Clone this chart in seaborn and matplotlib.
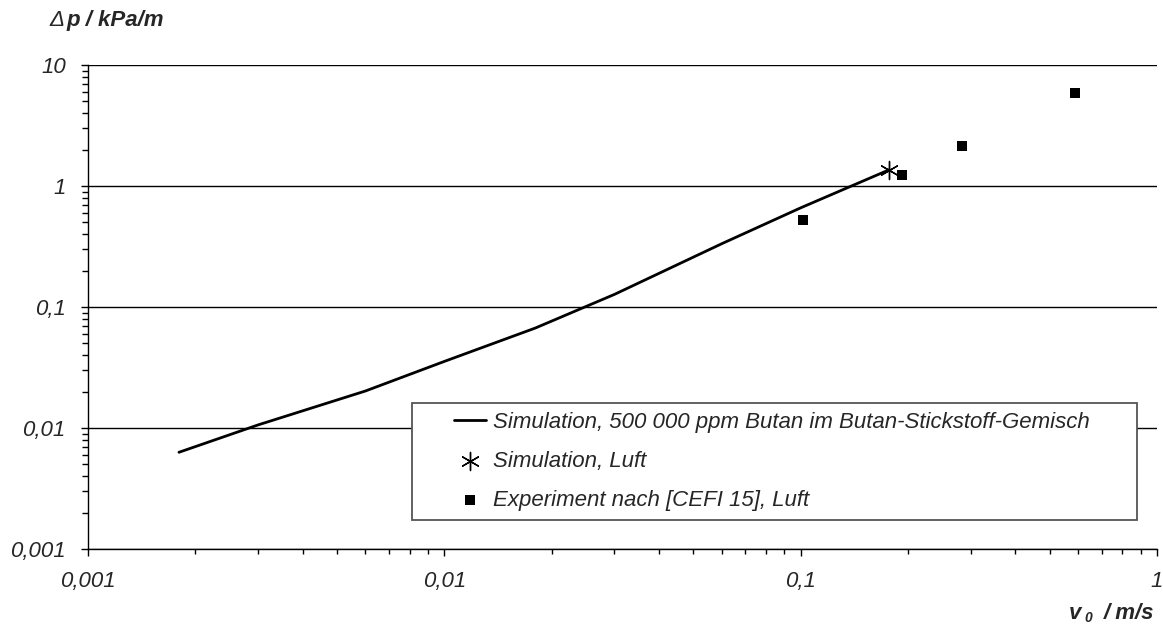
import matplotlib
matplotlib.use("Agg")
import matplotlib.pyplot as plt
import matplotlib.ticker as mticker
from matplotlib.lines import Line2D
from matplotlib.collections import PathCollection
from matplotlib.legend_handler import HandlerLine2D, HandlerPathCollection
import seaborn as sns
import pandas as pd
import numpy as np

# Data
sim_v = [0.0018, 0.003, 0.006, 0.01, 0.018, 0.03, 0.06, 0.1, 0.177]
sim_dp = [0.0063, 0.0106, 0.0202, 0.0355, 0.067, 0.127, 0.333, 0.66, 1.36]
air_v = [0.177]
air_dp = [1.36]
exp_v = [0.1016, 0.193, 0.284, 0.589]
exp_dp = [0.524, 1.23, 2.14, 5.87]

labels = ["Simulation, 500 000 ppm Butan im Butan-Stickstoff-Gemisch",
          "Simulation, Luft",
          "Experiment nach [CEFI 15], Luft"]

sns.set_theme(style="white")
plt.rcParams['font.family'] = ['Liberation Sans', 'DejaVu Sans']

W, H = 1163, 627
fig = plt.figure(figsize=(W / 100, H / 100), dpi=100)
ax = fig.add_axes([88 / W, 1 - 549 / H, (1157 - 88) / W, (549 - 65) / H])

df_sim = pd.DataFrame({"v": sim_v, "dp": sim_dp})
df_air = pd.DataFrame({"v": air_v, "dp": air_dp})
df_exp = pd.DataFrame({"v": exp_v, "dp": exp_dp})

sns.lineplot(data=df_sim, x="v", y="dp", ax=ax, color="black", lw=2.0,
             label=labels[0], zorder=3)
sns.scatterplot(data=df_air, x="v", y="dp", ax=ax, marker=(6, 2, 0), s=170,
                color="black", edgecolor="black", linewidth=1.0, label=labels[1], zorder=4)
sns.scatterplot(data=df_exp, x="v", y="dp", ax=ax, marker="s", s=55,
                color="black", edgecolor="black", linewidth=0, label=labels[2], zorder=4)

ax.set_xscale("log")
ax.set_yscale("log")
ax.set_xlim(0.001, 1)
ax.set_ylim(0.001, 10)

fmt = lambda val, pos: ("%g" % val).replace(".", ",")
ax.xaxis.set_major_locator(mticker.LogLocator(base=10, numticks=10))
ax.yaxis.set_major_locator(mticker.LogLocator(base=10, numticks=10))
ax.xaxis.set_minor_locator(mticker.LogLocator(base=10, subs=np.arange(2, 10), numticks=10))
ax.yaxis.set_minor_locator(mticker.LogLocator(base=10, subs=np.arange(2, 10), numticks=10))
ax.xaxis.set_major_formatter(mticker.FuncFormatter(fmt))
ax.yaxis.set_major_formatter(mticker.FuncFormatter(fmt))
ax.xaxis.set_minor_formatter(mticker.NullFormatter())
ax.yaxis.set_minor_formatter(mticker.NullFormatter())

ax.tick_params(axis="both", which="both", direction="out", color="black", width=1,
               labelsize=16)
ax.tick_params(axis="y", which="major", length=5, pad=11)
ax.tick_params(axis="y", which="minor", length=4.3)
ax.tick_params(axis="x", which="major", length=5, pad=11)
ax.tick_params(axis="x", which="minor", length=3.6)
for lab in ax.get_xticklabels() + ax.get_yticklabels():
    lab.set_fontstyle("italic")
ax.xaxis.set_ticks_position("bottom")
ax.yaxis.set_ticks_position("left")

ax.grid(True, which="major", axis="y", color="black", lw=1)
ax.grid(False, axis="x")
for side in ["top", "right"]:
    ax.spines[side].set_visible(False)
for side in ["left", "bottom"]:
    ax.spines[side].set_color("black")
    ax.spines[side].set_linewidth(1)

ax.set_xlabel("")
ax.set_ylabel("")

# axis titles
fig.text(49 / W, 1 - 26 / H, "\u0394", fontsize=16, fontstyle="italic",
         ha="left", va="baseline")
fig.text(66 / W, 1 - 26 / H, "p / kPa/m", fontsize=16, fontweight="bold",
         fontstyle="italic", ha="left", va="baseline")
fig.text(1069 / W, 1 - 619 / H, "v", fontsize=16, fontweight="bold",
         fontstyle="italic", ha="left", va="baseline")
fig.text(1084 / W, 1 - 622 / H, "0", fontsize=10, fontweight="bold",
         fontstyle="italic", ha="left", va="baseline")
fig.text(1154 / W, 1 - 619 / H, "/ m/s", fontsize=16, fontweight="bold",
         fontstyle="italic", ha="right", va="baseline")

xpad = 1.45
hmap = {Line2D: HandlerLine2D(xpad=xpad),
        PathCollection: HandlerPathCollection(xpad=xpad)}
ax_w, ax_h = 1157 - 88, 549 - 65
leg = ax.legend(loc="lower left",
                bbox_to_anchor=((412 - 88) / ax_w, (549 - 520) / ax_h, (1137 - 412) / ax_w, 0.2),
                mode="expand", frameon=True, fancybox=False,
                prop={"style": "italic", "size": 16}, handler_map=hmap,
                handlelength=2.9, handletextpad=0.32, labelspacing=0.8, borderpad=0.42,
                borderaxespad=0, edgecolor="#555555", framealpha=1, markerscale=1.0)
leg.get_frame().set_linewidth(1.3)

fig.savefig("out.png", dpi=100, facecolor="white")
